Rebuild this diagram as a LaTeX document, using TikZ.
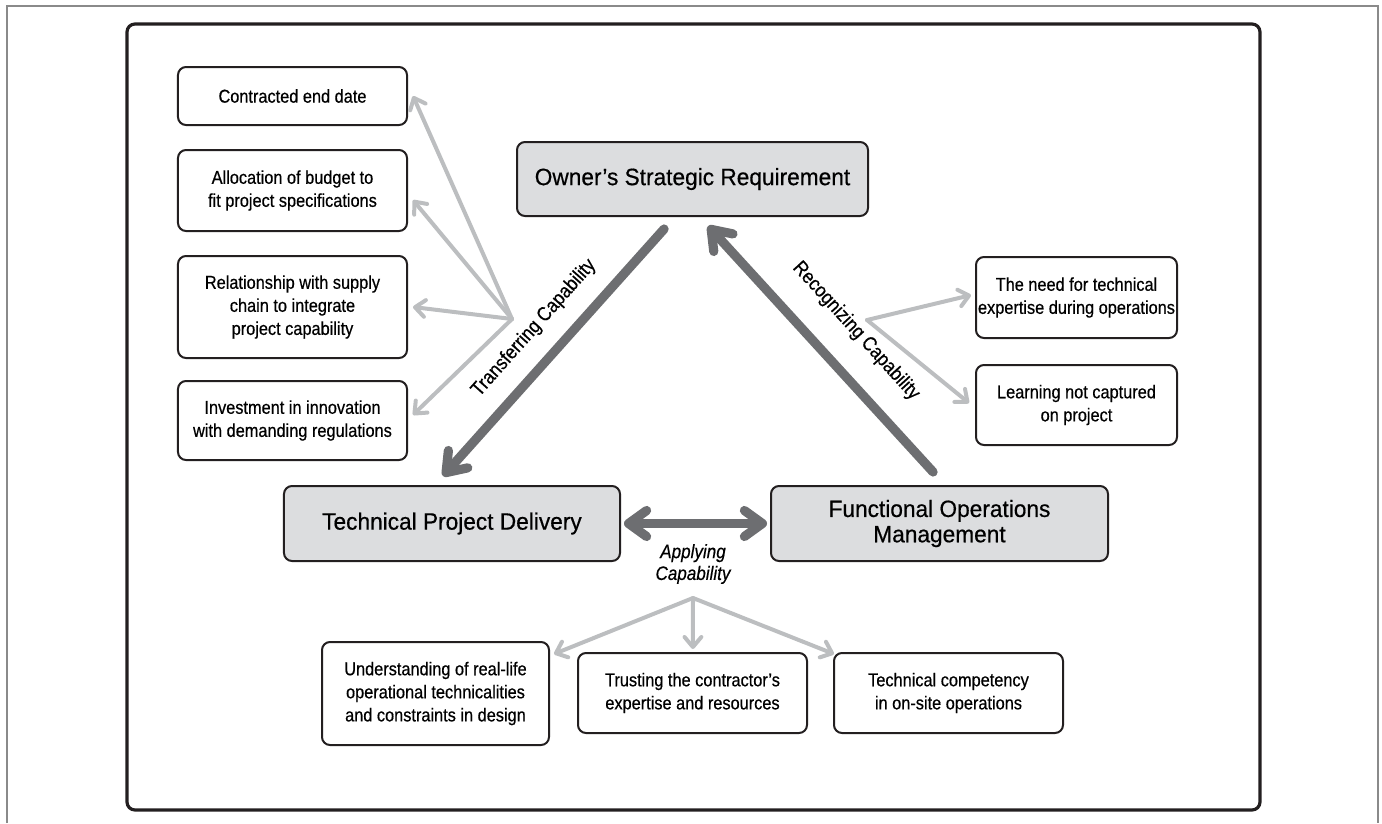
\documentclass[tikz,border=0pt]{standalone}
\usepackage{fontspec}
\setmainfont{Liberation Sans}[FakeStretch=0.88, FakeBold=0.5]
\newfontfamily\widefont{Liberation Sans}[FakeStretch=0.96, FakeBold=0.5]
\usetikzlibrary{arrows.meta}

\definecolor{boxgray}{HTML}{DCDDDF}
\definecolor{darkarrow}{HTML}{6D6E71}
\definecolor{lightarrow}{HTML}{BCBEC0}
\definecolor{framegray}{HTML}{8A8A8A}
\definecolor{ink}{HTML}{231F20}

\tikzset{
  bigtip/.tip={Straight Barb[round,length=4.5mm,width=6.5mm]},
  smalltip/.tip={Straight Barb[round,length=2.5mm,width=4.2mm]},
  itembox/.style={draw=ink, line width=0.5mm, rounded corners=2mm, align=center,
    inner sep=0pt, font=\fontsize{13.2}{16.4}\selectfont},
  mainbox/.style={itembox, fill=boxgray, font=\widefont\fontsize{16.8}{18}\selectfont},
  thickarrow/.style={draw=darkarrow, line width=2.3mm, line cap=round},
  thinarrow/.style={draw=lightarrow, line width=1mm, line cap=round, -smalltip},
  caplabel/.style={font=\fontsize{14.2}{15.5}\selectfont, align=center}
}

\begin{document}
\begin{tikzpicture}[x=0.25mm, y=-0.25mm]
\useasboundingbox (0,0) rectangle (1382,823);

% frames
\draw[framegray, line width=0.5mm] (7,823) -- (7,6) -- (1378,6) -- (1378,823);
\draw[ink, line width=0.8mm, rounded corners=2mm] (127,24) rectangle (1260,810);

% main triangle
\node[mainbox, minimum width=87.75mm, minimum height=18.5mm] (own) at (692.5,179) {Owner’s Strategic Requirement};
\node[mainbox, minimum width=84mm, minimum height=18.75mm] (tpd) at (452,523.5) {Technical Project Delivery};
\node[mainbox, minimum width=84.25mm, minimum height=18.75mm] (fom) at (939.5,523.5) {Functional Operations\\Management};

% transferring
\node[itembox, minimum width=57.25mm, minimum height=14.5mm] (ced) at (292.5,96) {Contracted end date};
\node[itembox, minimum width=57.25mm, minimum height=20.25mm] (alb) at (292.5,190.5) {Allocation of budget to\\fit project specifications};
\node[itembox, minimum width=57.25mm, minimum height=25.5mm] (rel) at (292.5,307) {Relationship with supply\\chain to integrate\\project capability};
\node[itembox, minimum width=57.25mm, minimum height=19.75mm] (inv) at (292.5,420.5) {Investment in innovation\\with demanding regulations};

% recognizing
\node[itembox, minimum width=50.25mm, minimum height=20.25mm] (nte) at (1076.5,297.5) {The need for technical\\expertise during operations};
\node[itembox, minimum width=50.25mm, minimum height=20mm] (lnc) at (1076.5,405) {Learning not captured\\on project};

% applying
\node[itembox, minimum width=56.75mm, minimum height=25.75mm] (urt) at (435.5,693.5) {Understanding of real-life\\operational technicalities\\and constraints in design};
\node[itembox, minimum width=57.25mm, minimum height=20mm] (tce) at (692.5,693) {Trusting the contractor’s\\expertise and resources};
\node[itembox, minimum width=57.25mm, minimum height=20mm] (tco) at (948.5,693) {Technical competency\\in on-site operations};

% big arrows
\draw[thickarrow, -bigtip] ([xshift=-7.1mm,yshift=-3mm]own.south) -- ([xshift=-2.25mm,yshift=2.25mm]tpd.north);
\draw[thickarrow, -bigtip] ([xshift=-1.6mm,yshift=3.25mm]fom.north) -- ([xshift=3.9mm,yshift=-2.25mm]own.south);
\draw[thickarrow, bigtip-bigtip] ([xshift=0.75mm]tpd.east) -- ([xshift=-0.75mm]fom.west);

\node[caplabel, rotate=48.4] (trl) at (534,328) {Transferring Capability};
\node[caplabel, rotate=-47.8] (rcl) at (856,331) {Recognizing Capability};
\node[caplabel, font=\fontsize{13.8}{15.5}\selectfont\itshape] (apl) at (693,564) {Applying\\Capability};

% thin arrows
\coordinate (hubL) at (512,319);
\coordinate (hubR) at (867,320);
\coordinate (hubB) at (693,598);

\draw[thinarrow] (hubL) -- ([xshift=1.25mm]ced.east);
\draw[thinarrow] (hubL) -- ([xshift=1.25mm,yshift=-2.4mm]alb.east);
\draw[thinarrow] (hubL) -- ([xshift=1.25mm]rel.east);
\draw[thinarrow] (hubL) -- ([xshift=1.25mm,yshift=1.4mm]inv.east);

\draw[thinarrow] (hubR) -- ([xshift=-1mm,yshift=0.6mm]nte.west);
\draw[thinarrow] (hubR) -- ([xshift=-1.5mm,yshift=0.5mm]lnc.west);

\draw[thinarrow] (hubB) -- ([xshift=1mm,yshift=-3.25mm]urt.north east);
\draw[thinarrow] (hubB) -- ([xshift=0.1mm,yshift=0.75mm]tce.north);
\draw[thinarrow] (hubB) -- ([xshift=0.25mm,yshift=-0.5mm]tco.north west);
\end{tikzpicture}
\end{document}
